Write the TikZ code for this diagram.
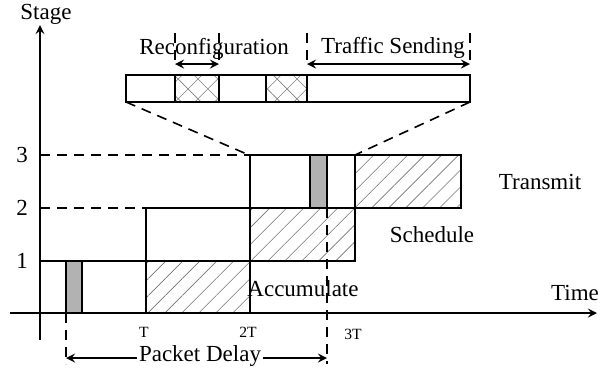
\documentclass[tikz,border=0pt]{standalone}
\usepackage{fontspec}
\setmainfont{Liberation Serif}
\usetikzlibrary{patterns.meta}

\begin{document}
\begin{tikzpicture}[>=stealth,x=0.5pt,y=-0.5pt,
        box/.style={line width=1pt},
        hatch/.style={pattern={Lines[angle=45,distance=6pt,line width=0.3pt]},pattern color=black!55},
        cross/.style={pattern={Hatch[angle=45,distance=7pt,line width=0.3pt]},pattern color=black!50},
        shade/.style={fill=black!30},
        guide/.style={dash pattern=on 5pt off 3.5pt,line width=0.8pt},
        arr/.style={<->,line width=1pt},
        lbl/.style={font=\fontsize{11.5}{13}\selectfont},
        tick/.style={font=\fontsize{7.8}{9}\selectfont}]
            \useasboundingbox (0,0) rectangle (609,376);
            % axes
            \draw[->,line width=1pt] (10,313) -- (597,313);
            \draw[->,line width=1pt] (40,340) -- (40,25);
            \node[lbl] (stage) at (46,14) {Stage};
            \node[lbl] (time) at (575,293) {Time};
            \node[lbl] (s1) at (22,261) {1};
            \node[lbl] (s2) at (22,208) {2};
            \node[lbl] (s3) at (22,155) {3};
            \node[tick] (t1) at (144,332) {T};
            \node[tick] (t2) at (248,332) {2T};
            \node[tick] (t3) at (353,334) {3T};
            % accumulate
            \draw[box] (40,261) -- (146,261);
            \draw[box,shade] (66,261) rectangle (82,313);
            \draw[box,hatch] (146,261) rectangle (250,313);
            % schedule
            \draw[box] (146,208) rectangle (250,261);
            \draw[box,hatch] (250,208) rectangle (355,261);
            % transmit
            \draw[box] (250,155) rectangle (355,208);
            \draw[box,shade] (310,155) rectangle (327,208);
            \draw[box,hatch] (355,155) rectangle (461,208);
            \node[lbl] (acc) at (303,289) {Accumulate};
            \node[lbl] (sch) at (432,235) {Schedule};
            \node[lbl] (trn) at (540,182) {Transmit};
            % levels and delay
            \draw[guide] (40,155) -- (250,155);
            \draw[guide] (40,208) -- (146,208);
            \draw[guide] (66,313) -- (66,364);
            \draw[guide] (327,208) -- (327,364);
            \coordinate (d0) at (66,358);
            \coordinate (d1) at (327,358);
            \draw[arr] (d0) -- (d1);
            \node[lbl,fill=white,inner sep=1pt] (delay) at (200,356) {Packet Delay};
            % zoomed frame
            \draw[box] (126,75) rectangle (470,102);
            \draw[box,cross] (175,75) rectangle (219,102);
            \draw[box,cross] (266,75) rectangle (307,102);
            \draw[guide] (175,33) -- (175,65);
            \draw[guide] (219,33) -- (219,65);
            \draw[guide] (307,33) -- (307,65);
            \draw[guide] (470,33) -- (470,65);
            \coordinate (r0) at (175,64);
            \coordinate (r1) at (219,64);
            \coordinate (f0) at (307,64);
            \coordinate (f1) at (470,64);
            \draw[arr] (r0) -- (r1);
            \draw[arr] (f0) -- (f1);
            \node[lbl] (reconf) at (214,49) {Reconfiguration};
            \node[lbl] (traffic) at (393,48) {Traffic Sending};
            \draw[guide] (126,102) -- (249,155);
            \draw[guide] (470,102) -- (355,155);
        \end{tikzpicture}
\end{document}
